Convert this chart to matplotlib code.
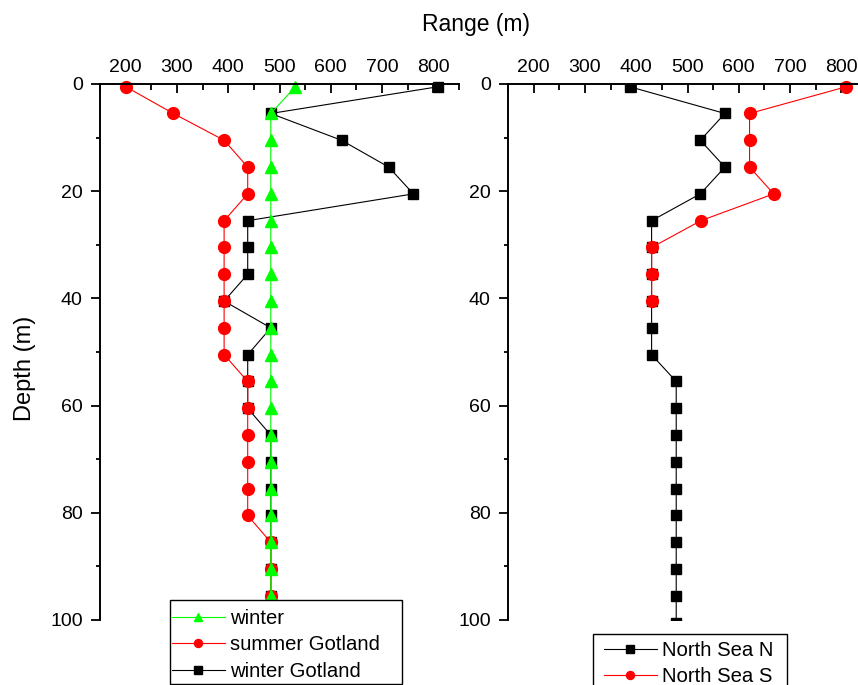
import matplotlib
matplotlib.use('Agg')
import matplotlib.pyplot as plt
from matplotlib.patches import Rectangle
from matplotlib.ticker import MultipleLocator

plt.rcParams['font.family'] = ['Liberation Sans', 'DejaVu Sans']

# depths (m)
depth_gotland = [0.5, 5.5, 10.5, 15.5, 20.5, 25.5, 30.5, 35.5, 40.5, 45.5,
                 50.5, 55.5, 60.5, 65.5, 70.5, 75.5, 80.5, 85.5, 90.5, 95.5]
depth_north_n = [0.5, 5.5, 10.5, 15.5, 20.5, 25.5, 30.5, 35.5, 40.5, 45.5,
                 50.5, 55.5, 60.5, 65.5, 70.5, 75.5, 80.5, 85.5, 90.5, 95.5, 100.5]
depth_north_s = [0.5, 5.5, 10.5, 15.5, 20.5, 25.5, 30.5, 35.5, 40.5]

# ranges (m)
winter = [531, 483, 483, 483, 483, 483, 483, 483, 483, 483,
          483, 483, 483, 483, 483, 483, 483, 483, 483, 483]
summer_gotland = [200, 293, 392, 438, 438, 392, 392, 392, 392, 392,
                  392, 438, 438, 438, 438, 438, 438, 483, 483, 483]
winter_gotland = [810, 483, 621, 713, 761, 438, 438, 438, 392, 483,
                  438, 438, 438, 483, 483, 483, 483, 483, 483, 483]
north_sea_n = [387, 573, 525, 573, 525, 430, 430, 430, 430, 430,
               430, 478, 478, 478, 478, 478, 478, 478, 478, 478, 478]
north_sea_s = [810, 621, 621, 621, 668, 526, 430, 430, 430]

W, H = 858, 685
fig = plt.figure(figsize=(W / 100, H / 100), dpi=100)
ax1 = fig.add_axes([100 / W, 1 - 620 / H, 359 / W, 536 / H])
ax2 = fig.add_axes([508 / W, 1 - 620 / H, 359 / W, 536 / H])


def style(ax):
    ax.set_xlim(150, 850)
    ax.set_ylim(100, 0)
    ax.xaxis.set_major_locator(MultipleLocator(100))
    ax.xaxis.set_minor_locator(MultipleLocator(50))
    ax.yaxis.set_major_locator(MultipleLocator(20))
    ax.yaxis.set_minor_locator(MultipleLocator(10))
    ax.xaxis.tick_top()
    ax.spines['right'].set_visible(False)
    ax.spines['bottom'].set_visible(False)
    for s in ('left', 'top'):
        ax.spines[s].set_linewidth(1.4)
    ax.tick_params(axis='x', which='both', direction='in', width=1.3,
                   labelsize=14, pad=6)
    ax.tick_params(axis='x', which='major', length=6.5)
    ax.tick_params(axis='x', which='minor', length=4.5)
    ax.tick_params(axis='y', which='both', direction='out', width=1.3,
                   labelsize=14, pad=6)
    ax.tick_params(axis='y', which='major', length=6.5)
    ax.tick_params(axis='y', which='minor', length=3)
    ax.set_xticks([x for x in range(200, 900, 100)])


style(ax1)
style(ax2)

l_wg, = ax1.plot(winter_gotland, depth_gotland, color='black', lw=0.8,
                 marker='s', ms=7.5, clip_on=False, label='winter Gotland')
l_sg, = ax1.plot(summer_gotland, depth_gotland, color='#ff0000', lw=0.8,
                 marker='o', ms=8.5, clip_on=False, label='summer Gotland')
l_w, = ax1.plot(winter, depth_gotland, color='#00ff00', lw=0.8,
                marker='^', ms=9, clip_on=False, label='winter')

l_n, = ax2.plot(north_sea_n, depth_north_n, color='black', lw=0.8,
                marker='s', ms=7.5, clip_on=True, label='North Sea N')
l_s, = ax2.plot(north_sea_s, depth_north_s, color='#ff0000', lw=0.8,
                marker='o', ms=8.5, clip_on=False, label='North Sea S')

# legend boxes (white, on top of the curves)
for x0, y0, x1, y1 in [(170, 600, 402, 684), (593, 634, 787, 690)]:
    fig.patches.append(Rectangle((x0 / W, 1 - y1 / H), (x1 - x0) / W,
                                 (y1 - y0) / H, transform=fig.transFigure,
                                 facecolor='white', edgecolor='black',
                                 lw=1.0, zorder=5))

leg_kw = dict(loc='upper left', borderaxespad=0, borderpad=0, fontsize=14.6,
              numpoints=1, handlelength=2.6, handletextpad=0.25,
              labelspacing=0.36, markerscale=0.68, frameon=False)
leg1 = fig.legend(handles=[l_w, l_sg, l_wg],
                  bbox_to_anchor=(172 / W, 1 - 609 / H), **leg_kw)
leg2 = fig.legend(handles=[l_n, l_s],
                  bbox_to_anchor=(604 / W, 1 - 641 / H), **leg_kw)
leg1.set_zorder(6)
leg2.set_zorder(6)

fig.text(476 / W, 1 - 31 / H, 'Range (m)', fontsize=16.5, ha='center',
         va='baseline')
fig.text(25 / W, 1 - 368 / H, 'Depth (m)', fontsize=17, ha='center',
         va='center', rotation=90)

fig.savefig('out.png', dpi=100)
